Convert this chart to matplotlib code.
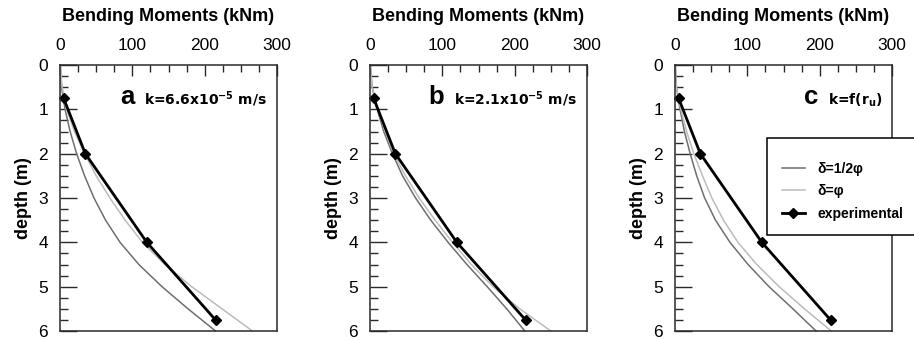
import matplotlib
matplotlib.use('Agg')
import matplotlib.pyplot as plt
from matplotlib.ticker import MultipleLocator

# ---------------- data ----------------
depth = [0, 0.5, 1, 1.5, 2, 2.5, 3, 3.5, 4, 4.5, 5, 5.5, 6]

half_phi_a = [0, 2, 7, 14, 23, 34, 47, 63, 83, 109, 141, 177, 215]
phi_a      = [0, 3, 9, 20, 34, 50, 69, 90, 114, 145, 182, 224, 266]

half_phi_b = [0, 3, 10, 19, 31, 45, 63, 84, 108, 134, 162, 189, 214]
phi_b      = [0, 3, 11, 21, 33, 49, 68, 90, 114, 140, 170, 207, 250]

half_phi_c = [0, 2, 7, 13, 21, 30, 41, 56, 76, 101, 130, 163, 195]
phi_c      = [0, 2, 8, 16, 26, 38, 51, 67, 87, 113, 144, 179, 216]

exp_depth  = [0.75, 2.0, 4.0, 5.75]
exp_moment = [5, 35, 120, 215]

panel_letters = ['a', 'b', 'c']
panel_k = [r'k=6.6x10$^{\mathbf{-5}}$ m/s',
           r'k=2.1x10$^{\mathbf{-5}}$ m/s',
           r'k=f(r$_{\mathrm{u}}$)']

x_ticks = [0, 100, 200, 300]
y_ticks = [0, 1, 2, 3, 4, 5, 6]

legend_labels = ['δ=1/2φ', 'δ=φ', 'experimental']

# ---------------- style ----------------
plt.rcParams['font.family'] = ['Liberation Sans', 'DejaVu Sans']
plt.rcParams['mathtext.fontset'] = 'custom'
plt.rcParams['mathtext.rm'] = 'DejaVu Sans:bold'
plt.rcParams['mathtext.bf'] = 'DejaVu Sans:bold'
plt.rcParams['mathtext.it'] = 'DejaVu Sans:bold'

DARK = '#6f6f6f'
LIGHT = '#bcbcbc'
SPINE = '#2a2a2a'

W, H = 914, 340
fig = plt.figure(figsize=(W / 100, H / 100), dpi=100)

lefts_px = [60, 370, 675]
ax_w_px = 217
top_px, bottom_px = 65, 331

series = [(half_phi_a, phi_a), (half_phi_b, phi_b), (half_phi_c, phi_c)]

for i, (hp, p) in enumerate(series):
    ax = fig.add_axes([lefts_px[i] / W, 1 - bottom_px / H,
                       ax_w_px / W, (bottom_px - top_px) / H])
    l1, = ax.plot(hp, depth, color=DARK, lw=1.1, label=legend_labels[0])
    l2, = ax.plot(p, depth, color=LIGHT, lw=1.1, label=legend_labels[1])
    l3, = ax.plot(exp_moment, exp_depth, color='black', lw=2.0, marker='D',
                  markersize=5.5, label=legend_labels[2])
    for l in (l1, l2, l3):
        l.set_clip_on(False)

    ax.set_xlim(0, 300)
    ax.set_ylim(6, 0)
    ax.set_xticks(x_ticks)
    ax.set_yticks(y_ticks)
    ax.xaxis.set_minor_locator(MultipleLocator(25))
    ax.yaxis.set_minor_locator(MultipleLocator(0.25))
    ax.xaxis.tick_top()
    ax.tick_params(axis='x', which='major', direction='in', length=8,
                   width=1.0, pad=9, labelsize=12.5, color=SPINE)
    ax.tick_params(axis='x', which='minor', direction='in', length=5,
                   width=1.0, color=SPINE)
    ax.tick_params(axis='y', which='major', direction='in', length=12,
                   width=1.0, pad=8.5, labelsize=12.5, color=SPINE)
    ax.tick_params(axis='y', which='minor', direction='in', length=6,
                   width=1.0, color=SPINE)
    for s in ax.spines.values():
        s.set_color(SPINE)
        s.set_linewidth(1.1)

    ax.xaxis.set_label_position('top')
    ax.set_xlabel('Bending Moments (kNm)', fontsize=13, fontweight='bold')
    ax.xaxis.set_label_coords(0.5, 1.165)
    ax.set_ylabel('depth (m)', fontsize=13, fontweight='bold')
    ax.yaxis.set_label_coords(-0.13, 0.5)

    kt = ax.text(0.955, 0.85, panel_k[i], transform=ax.transAxes,
                 ha='right', va='baseline', fontsize=10,
                 fontweight='bold', family='DejaVu Sans')
    ax.annotate(panel_letters[i], xy=(0, 0), xycoords=kt,
                xytext=(-7, 0), textcoords='offset points',
                ha='right', va='bottom', fontsize=18.5, fontweight='bold')

    if i == 2:
        leg = ax.legend(handles=[l1, l2, l3], loc='upper left',
                        bbox_to_anchor=(767 / W, 1 - 138 / H),
                        bbox_transform=fig.transFigure,
                        fancybox=False, framealpha=1, edgecolor='black',
                        prop={'weight': 'bold', 'size': 10},
                        title=' ', title_fontsize=1.5,
                        handlelength=1.7, handletextpad=0.85,
                        borderpad=1.05, labelspacing=0.6, borderaxespad=0)
        leg.get_frame().set_linewidth(1.1)

fig.savefig('out.png', dpi=100)
